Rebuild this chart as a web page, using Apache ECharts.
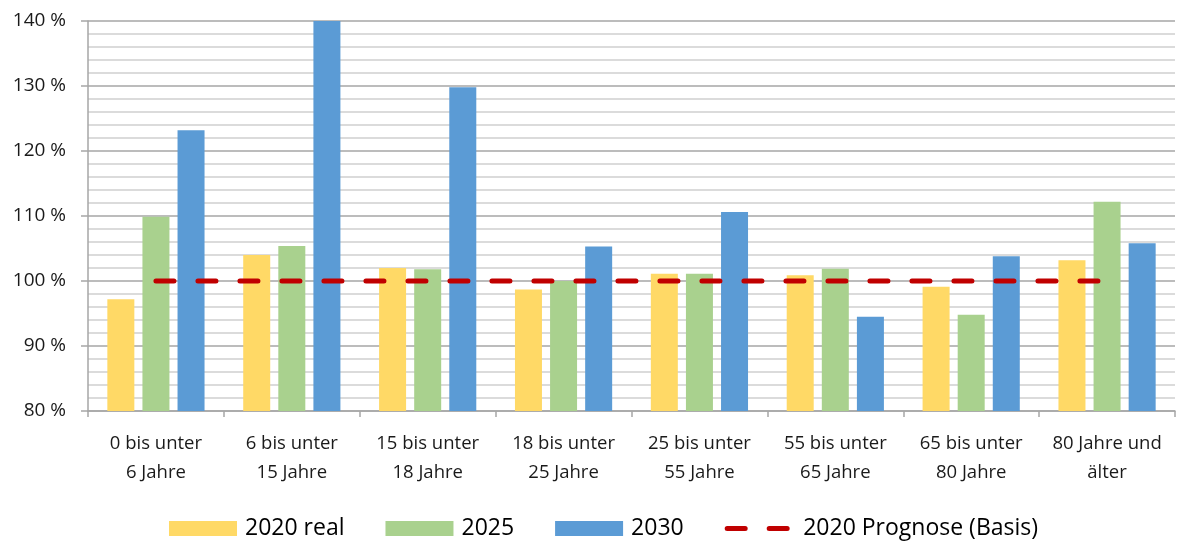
<!DOCTYPE html>
<html><head><meta charset="utf-8">
<script src="https://cdn.jsdelivr.net/npm/echarts@6/dist/echarts.min.js"></script>
<style>html,body{margin:0;padding:0;background:#fff}#c{width:1179px;height:547px}</style>
</head><body><div id="c"></div>
<script>
const categories = ["0 bis unter\n6 Jahre","6 bis unter\n15 Jahre","15 bis unter\n18 Jahre","18 bis unter\n25 Jahre","25 bis unter\n55 Jahre","55 bis unter\n65 Jahre","65 bis unter\n80 Jahre","80 Jahre und\nälter"];
const real2020 = [97.2, 104.0, 102.0, 98.7, 101.1, 100.9, 99.1, 103.2];
const v2025 = [109.9, 105.4, 101.8, 100.0, 101.1, 101.9, 94.8, 112.2];
const v2030 = [123.2, 140.2, 129.8, 105.3, 110.6, 94.5, 103.8, 105.8];
const prognose2020 = [100, 100, 100, 100, 100, 100, 100, 100];
const seriesNames = ["2020 real", "2025", "2030", "2020 Prognose (Basis)"];

const chart = echarts.init(document.getElementById('c'), null, {renderer: 'canvas'});
const font = "'Open Sans', 'Noto Sans', sans-serif";
const dashStyle = {color: '#C00000', width: 5, type: [18, 24], cap: 'round'};
chart.setOption({
  animation: false,
  textStyle: {fontFamily: font},
  grid: {left: 88, right: 4, top: 21, bottom: 136, containLabel: false},
  legend: {
    bottom: 2, left: 164,
    itemWidth: 68, itemHeight: 15, itemGap: 41,
    textStyle: {fontSize: 23, color: '#000', fontFamily: font, padding: [0,0,0,3]},
    data: [
      {name: seriesNames[0], icon: 'rect'},
      {name: seriesNames[1], icon: 'rect'},
      {name: seriesNames[2], icon: 'rect'},
      {name: seriesNames[3], itemStyle: {opacity: 0}, lineStyle: Object.assign({opacity: 1}, dashStyle)}
    ]
  },
  xAxis: {
    type: 'category', data: categories, boundaryGap: true,
    axisLine: {lineStyle: {color: '#a6a6a6', width: 1.5}},
    axisTick: {show: true, length: 6, lineStyle: {color: '#a6a6a6', width: 1.5}},
    axisLabel: {fontSize: 18.5, color: '#1a1a1a', lineHeight: 29, margin: 18, interval: 0}
  },
  yAxis: {
    type: 'value', min: 80, max: 140, interval: 10,
    axisLine: {show: true, lineStyle: {color: '#a6a6a6', width: 1.5}},
    axisTick: {show: true, length: 7, lineStyle: {color: '#a6a6a6', width: 1.5}},
    axisLabel: {fontSize: 19, color: '#1a1a1a', margin: 22, formatter: v => v + ' %'},
    splitLine: {show: true, lineStyle: {color: '#a6a6a6', width: 1.5}},
    minorTick: {show: false, splitNumber: 5},
    minorSplitLine: {show: true, lineStyle: {color: '#d0d0d0', width: 1.5}}
  },
  series: [
    {name: seriesNames[0], type: 'bar', data: real2020, barWidth: 27, barGap: '30%',
     itemStyle: {color: '#FFD966'}},
    {name: seriesNames[1], type: 'bar', data: v2025, barWidth: 27, barGap: '30%',
     itemStyle: {color: '#A9D18E'}},
    {name: seriesNames[2], type: 'bar', data: v2030, barWidth: 27, barGap: '30%',
     itemStyle: {color: '#5B9BD5'}},
    {name: seriesNames[3], type: 'line', data: prognose2020, symbol: 'none', z: 5,
     itemStyle: {color: '#C00000'},
     lineStyle: dashStyle}
  ]
});
</script></body></html>
